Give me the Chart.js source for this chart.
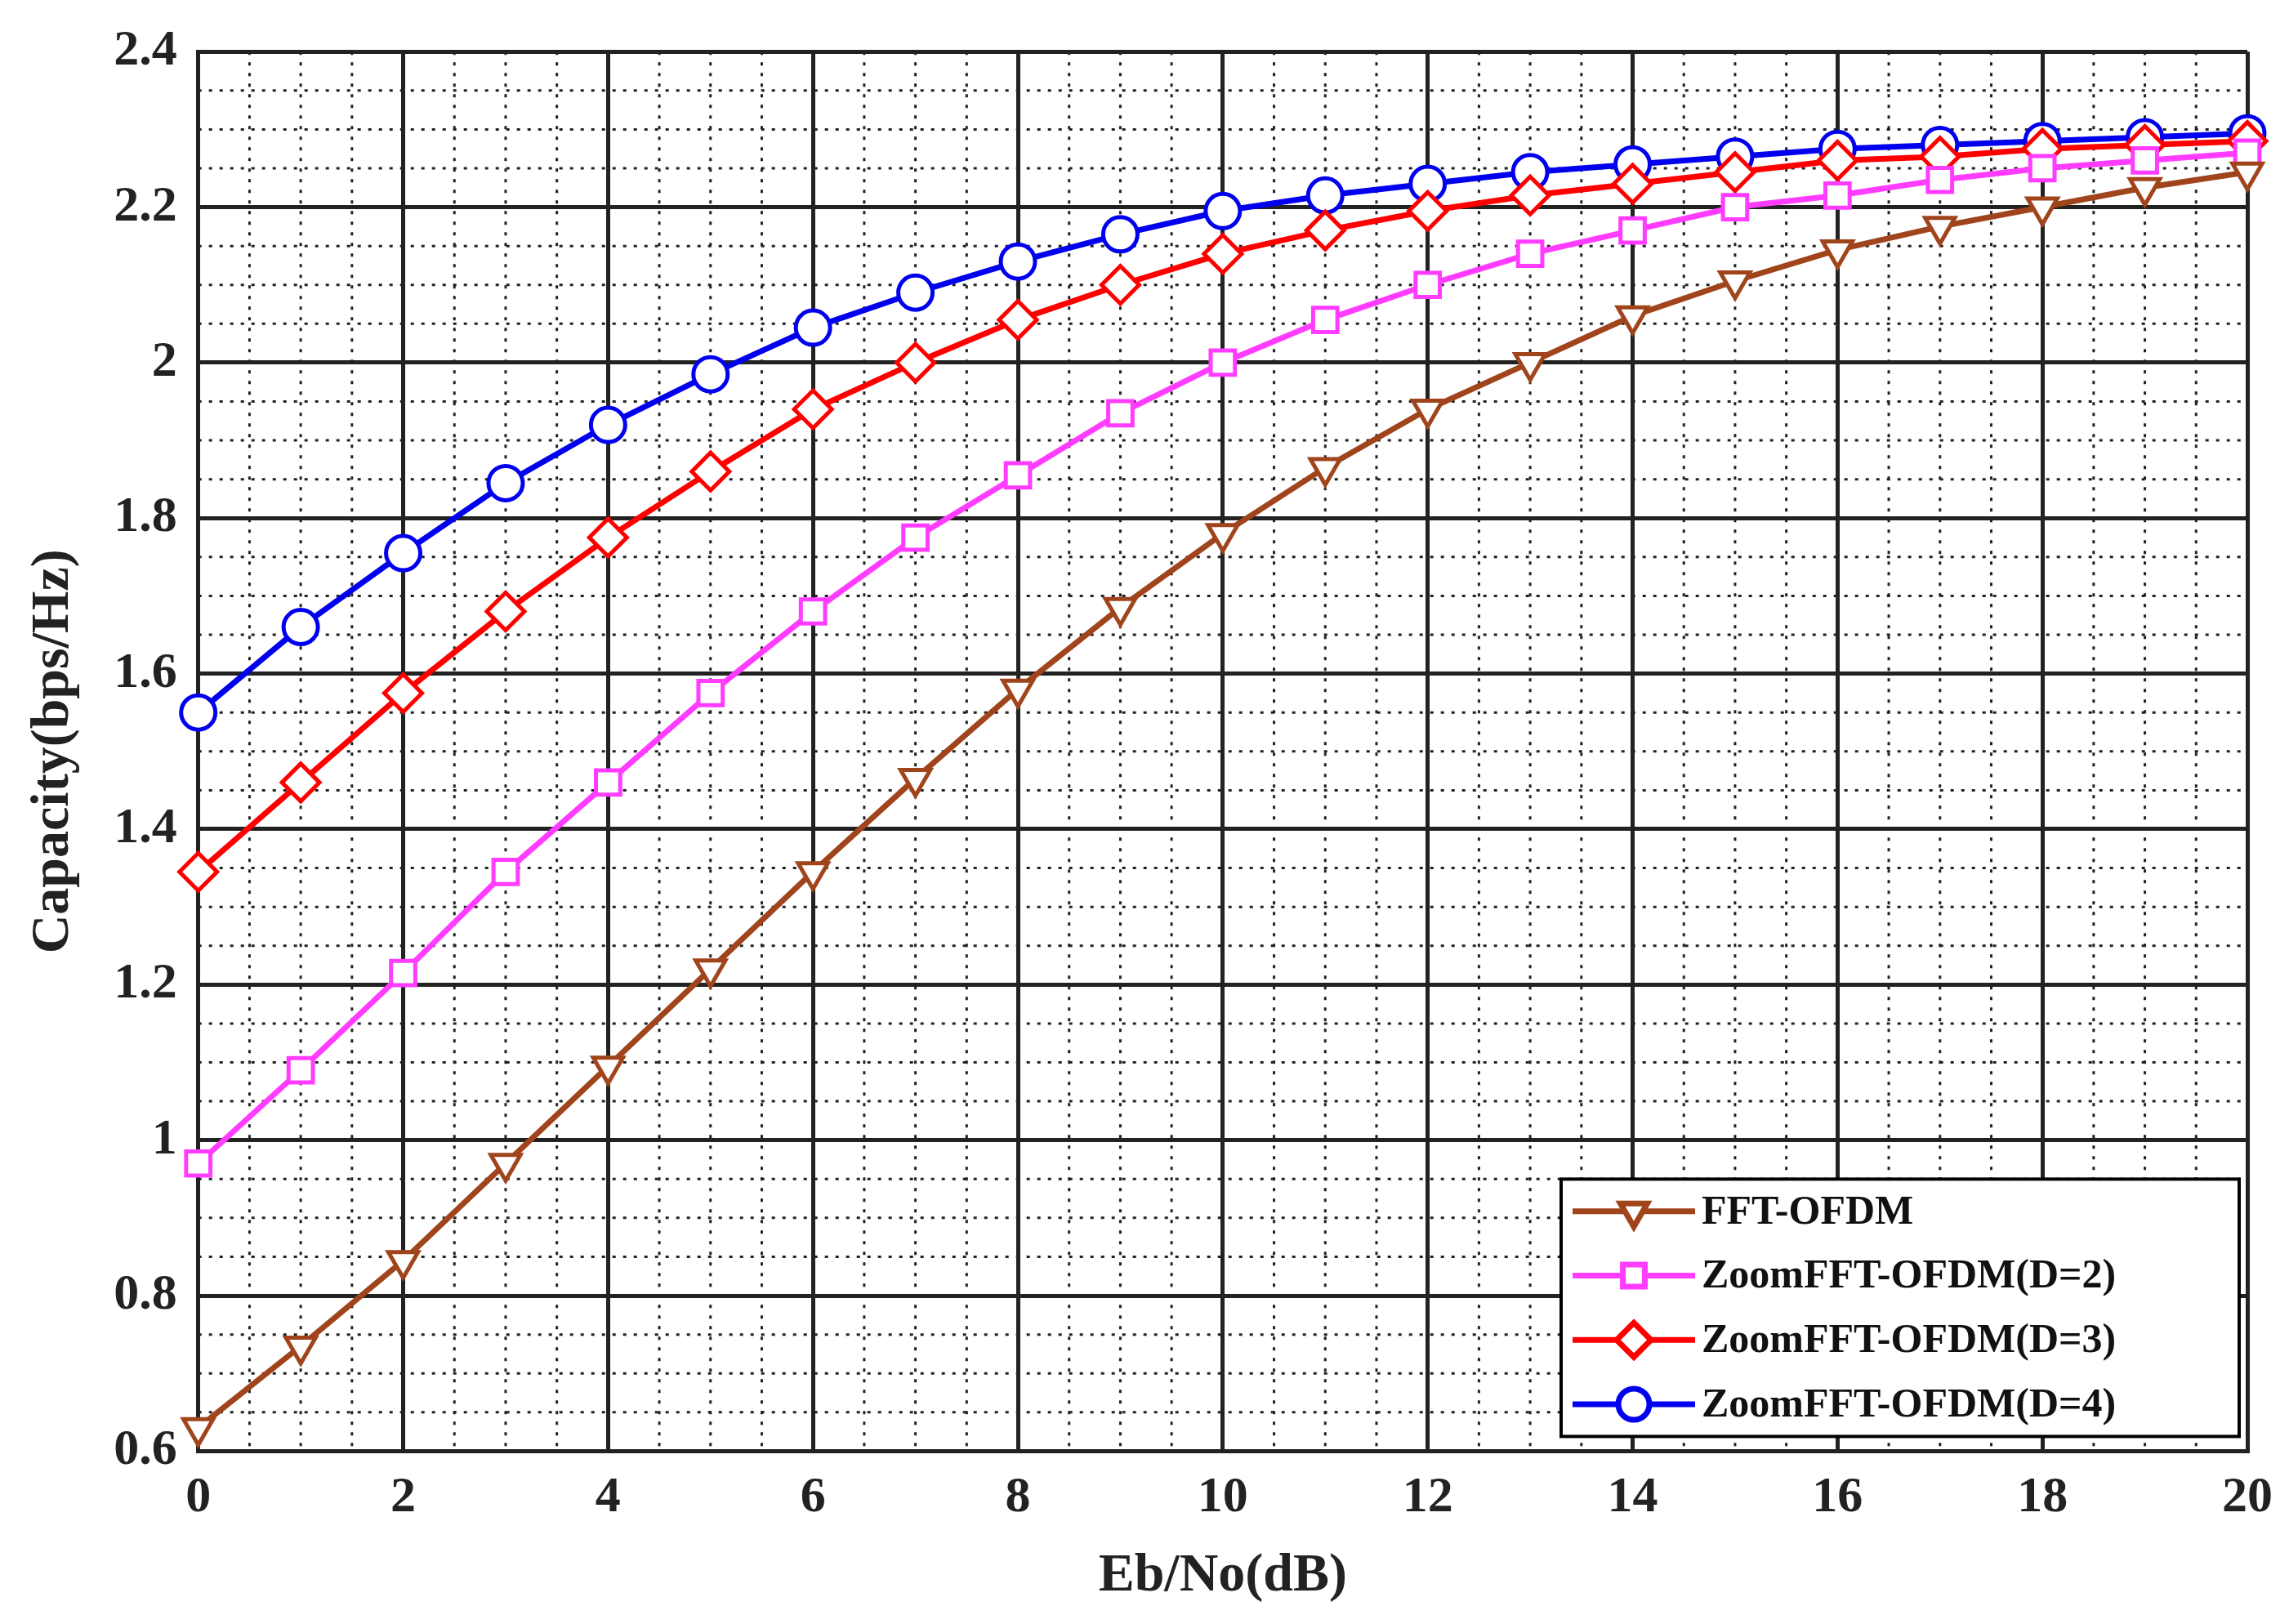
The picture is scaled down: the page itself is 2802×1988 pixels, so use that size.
<!DOCTYPE html>
<html><head><meta charset="utf-8">
<script src="https://cdn.jsdelivr.net/npm/chart.js@4/dist/chart.umd.min.js"></script>
<style>html,body{margin:0;padding:0;background:#fff}#c{display:block}</style>
</head><body>
<canvas id="c" width="2802" height="1988"></canvas>
<script>
const ebno = [0,1,2,3,4,5,6,7,8,9,10,11,12,13,14,15,16,17,18,19,20];
const fftOfdm = [0.63,0.735,0.845,0.97,1.095,1.22,1.345,1.465,1.58,1.685,1.78,1.865,1.94,2.0,2.06,2.105,2.145,2.175,2.2,2.225,2.245];
const zoomD2 = [0.97,1.09,1.215,1.345,1.46,1.575,1.68,1.775,1.855,1.935,2.0,2.055,2.1,2.14,2.17,2.2,2.215,2.235,2.25,2.26,2.27];
const zoomD3 = [1.345,1.46,1.575,1.68,1.775,1.86,1.94,2.0,2.055,2.1,2.14,2.17,2.195,2.215,2.23,2.245,2.26,2.265,2.275,2.28,2.285];
const zoomD4 = [1.55,1.66,1.755,1.845,1.92,1.985,2.045,2.09,2.13,2.165,2.195,2.215,2.23,2.245,2.255,2.265,2.275,2.28,2.285,2.29,2.295];
const seriesLabels = ['FFT-OFDM','ZoomFFT-OFDM(D=2)','ZoomFFT-OFDM(D=3)','ZoomFFT-OFDM(D=4)'];
const xTicks = [0,2,4,6,8,10,12,14,16,18,20];
const yTicks = [0.6,0.8,1.0,1.2,1.4,1.6,1.8,2.0,2.2,2.4];

const colors = ['#A0441C','#FF3CFF','#FF0000','#0000EE'];
const styles = [['triangle',180],['rect',0],['rectRot',0],['circle',0]];
const values = [fftOfdm, zoomD2, zoomD3, zoomD4];
const FONT = '"Liberation Serif", "Times New Roman", serif';

const datasets = values.map((v,i)=>({
  label: seriesLabels[i],
  data: ebno.map((x,j)=>({x:x,y:v[j]})),
  borderColor: colors[i], borderWidth: 7,
  pointStyle: styles[i][0], rotation: styles[i][1],
  pointRadius: i===2?23:21, pointBorderWidth: 5,
  pointBackgroundColor: '#fff', pointBorderColor: colors[i],
  tension: 0, clip: false
}));

const minorGrid = {
  id:'minorGrid',
  beforeDatasetsDraw(chart){
    const {ctx, chartArea:a, scales:{x,y}} = chart;
    ctx.save();
    ctx.strokeStyle='#222'; ctx.lineWidth=3; ctx.setLineDash([4,9]);
    for(let v=0; v<=20.001; v+=0.5){ if(Math.abs(v/2-Math.round(v/2))<1e-6) continue;
      const px=x.getPixelForValue(v); ctx.beginPath(); ctx.moveTo(px,a.top); ctx.lineTo(px,a.bottom); ctx.stroke(); }
    for(let k=0; k<=36; k++){ const v=0.6+k*0.05; if(k%4===0) continue;
      const py=y.getPixelForValue(v); ctx.beginPath(); ctx.moveTo(a.left,py); ctx.lineTo(a.right,py); ctx.stroke(); }
    ctx.restore();
  }
};

const legendBox = {
  id:'legendBox',
  afterDraw(chart){
    const {ctx, chartArea:a} = chart;
    const w=830, h=315, x0=a.right-w-10, y0=a.bottom-h-18;
    ctx.save();
    ctx.fillStyle='#fff'; ctx.fillRect(x0,y0,w,h);
    ctx.strokeStyle='#000'; ctx.lineWidth=4; ctx.setLineDash([]); ctx.strokeRect(x0,y0,w,h);
    const rowH=h/4;
    chart.data.datasets.forEach((d,i)=>{
      const cy=y0+rowH*(i+0.5);
      ctx.strokeStyle=d.borderColor; ctx.lineWidth=7;
      ctx.beginPath(); ctx.moveTo(x0+14,cy); ctx.lineTo(x0+164,cy); ctx.stroke();
      ctx.fillStyle='#fff';
      Chart.helpers.drawPoint(ctx,{pointStyle:d.pointStyle,rotation:d.rotation,radius:d.pointRadius-2,borderWidth:5},x0+89,cy);
      ctx.fillStyle='#111'; ctx.font='bold 50px '+FONT; ctx.textBaseline='middle'; ctx.textAlign='left';
      ctx.fillText(d.label,x0+172,cy+2);
    });
    ctx.restore();
  }
};

new Chart(document.getElementById('c'),{
  type:'line',
  data:{datasets},
  options:{
    responsive:false, animation:false, devicePixelRatio:1,
    layout:{padding:{top:48,right:48,left:22,bottom:14}},
    plugins:{legend:{display:false},tooltip:{enabled:false}},
    scales:{
      x:{type:'linear',min:0,max:20,
        afterBuildTicks:s=>{s.ticks=xTicks.map(v=>({value:v}));},
        grid:{color:'#222',lineWidth:5,drawTicks:false},
        border:{color:'#222',width:5},
        ticks:{color:'#222',font:{family:FONT,size:62,weight:'bold'},padding:20,maxRotation:0},
        title:{display:true,text:'Eb/No(dB)',color:'#222',font:{family:FONT,size:66,weight:'bold'},padding:{top:0}}
      },
      y:{type:'linear',min:0.6,max:2.4,
        afterBuildTicks:s=>{s.ticks=yTicks.map(v=>({value:v}));},
        grid:{color:'#222',lineWidth:5,drawTicks:false},
        border:{color:'#222',width:5},
        ticks:{color:'#222',font:{family:FONT,size:62,weight:'bold'},padding:26,callback:v=>String(+(+v).toFixed(1))},
        title:{display:true,text:'Capacity(bps/Hz)',color:'#222',font:{family:FONT,size:66,weight:'bold'},padding:{bottom:8}}
      }
    }
  },
  plugins:[minorGrid,legendBox]
});
</script>
</body></html>
